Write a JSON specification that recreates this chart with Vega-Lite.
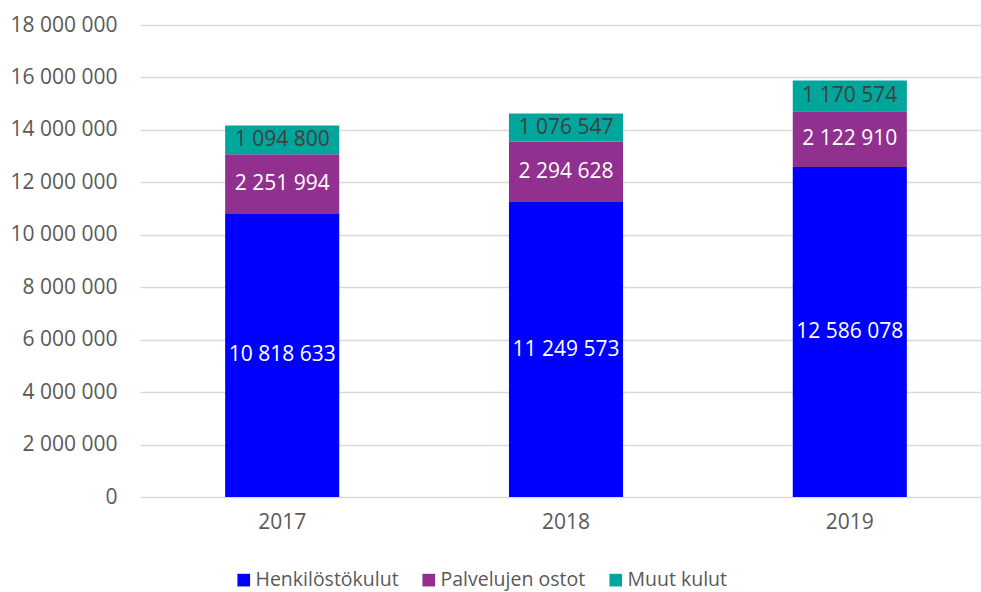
{
  "$schema": "https://vega.github.io/schema/vega-lite/v6.json",
  "width": 852,
  "height": 472,
  "autosize": {"type": "none"},
  "padding": {"left": 140, "top": 25, "right": 0, "bottom": 95},
  "config": {
    "locale": {"number": {"decimal": ",", "thousands": " ", "grouping": [3], "currency": ["", " €"]}},
    "font": "Open Sans",
    "view": {"stroke": null}
  },
  "data": {
    "values": [
      {"year": "2017", "category": "Henkilöstökulut", "order": 1, "value": 10818633},
      {"year": "2017", "category": "Palvelujen ostot", "order": 2, "value": 2251994},
      {"year": "2017", "category": "Muut kulut", "order": 3, "value": 1094800},
      {"year": "2018", "category": "Henkilöstökulut", "order": 1, "value": 11249573},
      {"year": "2018", "category": "Palvelujen ostot", "order": 2, "value": 2294628},
      {"year": "2018", "category": "Muut kulut", "order": 3, "value": 1076547},
      {"year": "2019", "category": "Henkilöstökulut", "order": 1, "value": 12586078},
      {"year": "2019", "category": "Palvelujen ostot", "order": 2, "value": 2122910},
      {"year": "2019", "category": "Muut kulut", "order": 3, "value": 1170574}
    ]
  },
  "transform": [
    {"stack": "value", "groupby": ["year"], "sort": [{"field": "order", "order": "ascending"}], "as": ["v0", "v1"]},
    {"calculate": "(datum.v0 + datum.v1) / 2", "as": "mid"}
  ],
  "encoding": {
    "x": {
      "field": "year", "type": "nominal", "title": null,
      "scale": {"paddingInner": 0.598, "paddingOuter": 0.3},
      "axis": {"labelAngle": 0, "ticks": false, "domain": false, "labelFontSize": 21, "labelColor": "#595959", "labelPadding": 14, "labelFont": "Open Sans"}
    }
  },
  "layer": [
    {
      "mark": {"type": "bar"},
      "encoding": {
        "y": {
          "field": "v0", "type": "quantitative", "title": null,
          "scale": {"domain": [0, 18000000], "nice": false},
          "axis": {"values": [0, 2000000, 4000000, 6000000, 8000000, 10000000, 12000000, 14000000, 16000000, 18000000], "format": ",d", "domain": false, "ticks": false, "labelFontSize": 21, "labelColor": "#595959", "labelPadding": 23, "gridColor": "#D9D9D9", "gridWidth": 1.3, "labelFont": "Open Sans"}
        },
        "y2": {"field": "v1"},
        "color": {
          "field": "category", "type": "nominal",
          "scale": {"domain": ["Henkilöstökulut", "Palvelujen ostot", "Muut kulut"], "range": ["#0000FF", "#92308F", "#00A59B"]},
          "legend": {"title": null, "orient": "none", "legendX": 94, "legendY": 545, "direction": "horizontal", "symbolType": "square", "symbolSize": 160, "symbolStrokeWidth": 0, "labelFontSize": 19.5, "labelColor": "#595959", "labelFont": "Open Sans", "labelOffset": 2, "columnPadding": 20, "symbolOpacity": 1}
        }
      }
    },
    {
      "mark": {"type": "text", "fontSize": 21, "font": "Open Sans", "baseline": "middle", "align": "center"},
      "encoding": {
        "y": {"field": "mid", "type": "quantitative"},
        "text": {"field": "value", "type": "quantitative", "format": ",d"},
        "color": {
          "condition": {"test": "datum.category === 'Muut kulut'", "value": "#404040"},
          "value": "#FFFFFF"
        }
      }
    }
  ]
}
